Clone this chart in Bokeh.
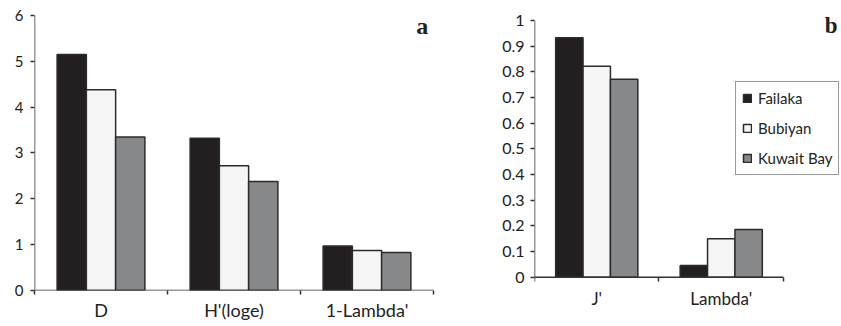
from bokeh.plotting import figure
from bokeh.layouts import row
from bokeh.models import (ColumnDataSource, Range1d, FixedTicker, Label, Legend, LegendItem,
                          LinearAxis)
from bokeh.transform import dodge
from bokeh.embed import file_html
from bokeh.resources import INLINE

# ---- data ----
cats_a = ["D", "H'(loge)", "1-Lambda'"]
failaka_a = [5.15, 3.32, 0.97]
bubiyan_a = [4.38, 2.72, 0.87]
kuwait_a = [3.35, 2.38, 0.83]
yticks_a = [0, 1, 2, 3, 4, 5, 6]

cats_b = ["J'", "Lambda'"]
failaka_b = [0.933, 0.046]
bubiyan_b = [0.822, 0.150]
kuwait_b = [0.771, 0.186]
yticks_b = [0, 0.1, 0.2, 0.3, 0.4, 0.5, 0.6, 0.7, 0.8, 0.9, 1.0]
yticklabels_b = ["0", "0.1", "0.2", "0.3", "0.4", "0.5", "0.6", "0.7", "0.8", "0.9", "1"]

series_names = ["Failaka", "Bubiyan", "Kuwait Bay"]
colors = ["#231f20", "#f5f5f5", "#87888a"]

FONT = "Lato"
BW = 0.22
OUT = "#2b2b2b"
AX = "#333333"


def style_axes(p, tick_size, cat_size, cat_standoff, ylab_standoff):
    for ax in (p.xaxis[0], p.yaxis[0]):
        ax.axis_line_color = None
        ax.major_label_text_font = FONT
        ax.major_label_text_color = "#222222"
    xa = p.xaxis[0]
    xa.major_tick_out = 0
    xa.major_tick_in = 0
    xa.minor_tick_out = 4
    xa.minor_tick_in = 0
    xa.minor_tick_line_color = AX
    xa.minor_tick_line_width = 1.5
    xa.major_label_text_font_size = cat_size
    xa.major_label_standoff = cat_standoff
    ya = p.yaxis[0]
    ya.major_tick_out = 4
    ya.major_tick_in = 0
    ya.major_tick_line_color = AX
    ya.major_tick_line_width = 1.5
    ya.minor_tick_line_color = None
    ya.major_label_text_font_size = tick_size
    ya.major_label_standoff = ylab_standoff
    p.xgrid.visible = False
    p.ygrid.visible = False
    p.outline_line_color = None


def add_bars(p, cats, vals, ymax):
    src = ColumnDataSource(dict(
        x=[i + 0.5 for i in range(len(cats))],
        f=vals[0], b=vals[1], k=vals[2]))
    rs = []
    for off, col, c in zip([-BW, 0, BW], ["f", "b", "k"], colors):
        r = p.vbar(x=dodge("x", off), top=col, width=BW, bottom=0, source=src,
                   fill_color=c, line_color=OUT, line_width=1.5)
        rs.append(r)
    # axis lines: x from first to last category edge, y from 0 to top tick
    p.segment(x0=[0, 0], y0=[0, 0], x1=[len(cats), 0], y1=[0, ymax],
              line_color=AX, line_width=1.5)
    return rs


# ---- panel a ----
pa = figure(width=440, height=326, output_backend="svg", toolbar_location=None,
            x_range=Range1d(0, len(cats_a)), y_range=Range1d(0, 6.218),
            min_border_left=34, min_border_right=7, min_border_top=5, min_border_bottom=36)
add_bars(pa, cats_a, [failaka_a, bubiyan_a, kuwait_a], yticks_a[-1])
pa.xaxis[0].ticker = FixedTicker(ticks=[i + 0.5 for i in range(len(cats_a))],
                                 minor_ticks=list(range(len(cats_a) + 1)))
pa.xaxis[0].major_label_overrides = {i + 0.5: c for i, c in enumerate(cats_a)}
pa.yaxis[0].ticker = FixedTicker(ticks=yticks_a)
style_axes(pa, "15px", "18px", 4, 7)
pa.add_layout(Label(x=2.96, y=5.78, text="a", text_align="right", text_baseline="alphabetic",
                    text_font="Liberation Serif", text_font_style="bold",
                    text_font_size="24px", text_color="#222222"))

# ---- panel b ----
xend_b = 2.466
pb = figure(width=401, height=326, output_backend="svg", toolbar_location=None,
            x_range=Range1d(0, xend_b), y_range=Range1d(-0.0518, 1.0584),
            min_border_left=94, min_border_right=0, min_border_top=5, min_border_bottom=36)
rs = add_bars(pb, cats_b, [failaka_b, bubiyan_b, kuwait_b], yticks_b[-1])
pb.xaxis[0].ticker = FixedTicker(ticks=[i + 0.5 for i in range(len(cats_b))])
pb.xaxis[0].major_label_overrides = {i + 0.5: c for i, c in enumerate(cats_b)}
pb.yaxis[0].ticker = FixedTicker(ticks=yticks_b)
pb.yaxis[0].major_label_overrides = {t: l for t, l in zip(yticks_b, yticklabels_b)}
style_axes(pb, "16px", "17px", -3, 6)
pb.xaxis[0].minor_tick_line_color = None
# tick marks (category boundaries) of panel b's axis, sitting on y = 0
tick_axis = LinearAxis(ticker=FixedTicker(ticks=[], minor_ticks=list(range(len(cats_b) + 1))),
                       fixed_location=0, axis_line_color=None,
                       major_tick_line_color=None, major_label_standoff=0,
                       minor_tick_out=4, minor_tick_in=0, minor_tick_line_color=AX,
                       minor_tick_line_width=1.5)
pb.add_layout(tick_axis, "below")
pb.add_layout(Label(x=2.434, y=0.98, text="b", text_align="right", text_baseline="alphabetic",
                    text_font="Liberation Serif", text_font_style="bold",
                    text_font_size="23px", text_color="#222222"))

legend = Legend(items=[LegendItem(label=n, renderers=[r]) for n, r in zip(series_names, rs)],
                location=(201, 115), padding=6, spacing=10, margin=0,
                glyph_width=10, glyph_height=10, label_height=20, label_standoff=6,
                label_text_font=FONT, label_text_font_size="15px", label_text_color="#222222",
                border_line_color="#333333", border_line_width=1.2,
                background_fill_color="white", background_fill_alpha=1.0)
pb.add_layout(legend, "center")

layout = row(pa, pb, spacing=0)
open("out.html", "w").write(file_html(layout, INLINE))
